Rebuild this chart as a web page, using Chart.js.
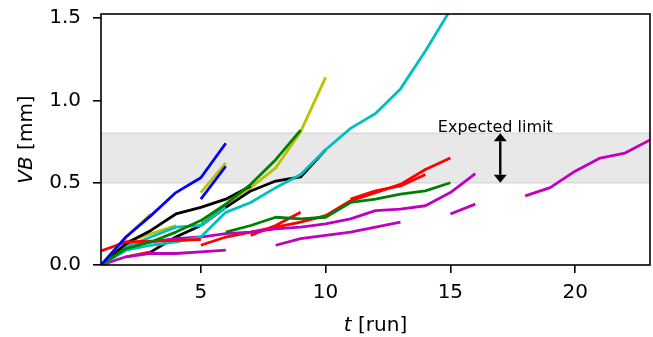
<!DOCTYPE html>
<html><head><meta charset="utf-8">
<script src="https://cdn.jsdelivr.net/npm/chart.js@4"></script>
<style>html,body{margin:0;padding:0;background:#fff}#wrap{width:653px;height:337px}</style>
</head><body><div id="wrap"><canvas id="c" width="653" height="337"></canvas></div>
<script>
// ---- axes / annotation values ----
const X_TICKS = [5, 10, 15, 20];
const Y_TICKS = [0, 0.5, 1.0, 1.5];
const X_MIN = 1, X_MAX = 23, Y_MIN = 0, Y_MAX = 1.525;
const BAND_LOW = 0.5, BAND_HIGH = 0.8;
const ARROW_X = 17;
const NOTE = "Expected limit", NOTE_X = 16.8, NOTE_Y = 0.81;
const X_TITLE_IT = "t", X_TITLE_RM = " [run]";
const Y_TITLE_IT = "VB", Y_TITLE_RM = " [mm]";

// ---- series (x values, VB values) ----
const B1_X = [1,2,3,4,5,6],            B1_Y = [0.00,0.17,0.30,0.44,0.53,0.74];
const B2_X = [5,6],                    B2_Y = [0.40,0.60];
const Y1_X = [1,2,3],                  Y1_Y = [0.00,0.17,0.31];
const Y2_X = [2,3,4],                  Y2_Y = [0.14,0.19,0.24];
const Y3_X = [5,6],                    Y3_Y = [0.44,0.62];
const Y4_X = [5,6,7,8,9,10],           Y4_Y = [0.26,0.37,0.47,0.59,0.81,1.14];
const G1_X = [1,2,3,4,5,6,7,8,9],      G1_Y = [0.00,0.10,0.14,0.20,0.27,0.37,0.49,0.64,0.82];
const G2_X = [6,7,8,9,10,11,12,13,14,15], G2_Y = [0.20,0.24,0.29,0.28,0.29,0.38,0.40,0.43,0.45,0.50];
const R1_X = [1,2,3,4,5],              R1_Y = [0.085,0.14,0.145,0.15,0.155];
const R0_X = [2,3],                    R0_Y = [0.05,0.08];
const R2_X = [5,6,7,8,9,10,11,12,13,14,15], R2_Y = [0.12,0.17,0.20,0.23,0.26,0.30,0.39,0.44,0.49,0.58,0.65];
const R3_X = [7,8,9],                  R3_Y = [0.18,0.24,0.32];
const R4_X = [11,12,13,14],            R4_Y = [0.40,0.45,0.48,0.55];
const C1_X = [1,2,3,4,5,6,7,8,9,10,11,12,13,14,15], C1_Y = [0.00,0.09,0.12,0.14,0.17,0.32,0.38,0.47,0.55,0.70,0.83,0.92,1.07,1.30,1.55];
const C2_X = [1,2,3,4,5,6],            C2_Y = [0.00,0.11,0.17,0.23,0.24,0.35];
const M1_X = [1,2,3,4,5,6],            M1_Y = [0.00,0.05,0.07,0.07,0.08,0.09];
const M2_X = [1,2,3,4,5,6,7,8,9,10,11,12,13,14,15,16], M2_Y = [0.00,0.12,0.14,0.16,0.17,0.19,0.20,0.22,0.23,0.25,0.28,0.33,0.34,0.36,0.44,0.555];
const M3_X = [8,9,10,11,12,13],        M3_Y = [0.12,0.16,0.18,0.20,0.23,0.26];
const M4_X = [15,16],                  M4_Y = [0.31,0.37];
const M5_X = [18,19,20,21,22,23],      M5_Y = [0.42,0.47,0.57,0.65,0.68,0.76];
const K1_X = [1,2,3,4,5,6,7],          K1_Y = [0.00,0.13,0.21,0.31,0.35,0.40,0.48];
const K2_X = [3,4,5,6,7,8,9,10],       K2_Y = [0.08,0.17,0.24,0.35,0.45,0.51,0.535,0.70];

const COL = {b:'#0000ff', g:'#008000', r:'#ff0000', c:'#00bfbf', m:'#bf00bf', y:'#bfbf00', k:'#000000'};
const SERIES = [
  [B1_X,B1_Y,'b'],[G1_X,G1_Y,'g'],[R1_X,R1_Y,'r'],[C1_X,C1_Y,'c'],[M1_X,M1_Y,'m'],[Y1_X,Y1_Y,'y'],[K1_X,K1_Y,'k'],
  [B2_X,B2_Y,'b'],[G2_X,G2_Y,'g'],[R0_X,R0_Y,'r'],[C2_X,C2_Y,'c'],[M2_X,M2_Y,'m'],[Y2_X,Y2_Y,'y'],[K2_X,K2_Y,'k'],
  [R2_X,R2_Y,'r'],[M3_X,M3_Y,'m'],[Y3_X,Y3_Y,'y'],[Y4_X,Y4_Y,'y'],[R3_X,R3_Y,'r'],[R4_X,R4_Y,'r'],[M4_X,M4_Y,'m'],[M5_X,M5_Y,'m']
];

const FONT = "'DejaVu Sans', sans-serif";

const datasets = SERIES.map(([xs, ys, c]) => ({
  data: xs.map((x, i) => ({x: x, y: ys[i]})),
  borderColor: COL[c], backgroundColor: COL[c],
  borderWidth: 2.8, pointRadius: 0, fill: false, tension: 0,
  borderJoinStyle: 'round', borderCapStyle: 'butt', clip: 0
}));

const deco = {
  id: 'deco',
  beforeDatasetsDraw(chart) {
    const {ctx, chartArea: a, scales: {x, y}} = chart;
    const yt = y.getPixelForValue(BAND_HIGH), yb = y.getPixelForValue(BAND_LOW);
    ctx.save();
    ctx.fillStyle = '#e8e8e8';
    ctx.fillRect(a.left, yt, a.right - a.left, yb - yt);
    ctx.strokeStyle = '#d9d9d9'; ctx.lineWidth = 1.5;
    ctx.beginPath();
    ctx.moveTo(a.left, yt); ctx.lineTo(a.right, yt);
    ctx.moveTo(a.left, yb); ctx.lineTo(a.right, yb);
    ctx.stroke();
    ctx.restore();
  },
  afterDatasetsDraw(chart) {
    const {ctx, chartArea: a, scales: {x, y}} = chart;
    ctx.save();
    // spines
    ctx.strokeStyle = '#000'; ctx.lineWidth = 1.6;
    ctx.strokeRect(a.left, a.top, a.right - a.left, a.bottom - a.top);
    // double arrow
    const ax = x.getPixelForValue(ARROW_X);
    const y1 = y.getPixelForValue(BAND_HIGH), y2 = y.getPixelForValue(BAND_LOW);
    const hl = 8, hw = 6.5;
    ctx.lineWidth = 2.4;
    ctx.beginPath(); ctx.moveTo(ax, y1 + hl); ctx.lineTo(ax, y2 - hl); ctx.stroke();
    ctx.fillStyle = '#000';
    ctx.beginPath(); ctx.moveTo(ax, y1); ctx.lineTo(ax - hw, y1 + hl); ctx.lineTo(ax + hw, y1 + hl); ctx.closePath(); ctx.fill();
    ctx.beginPath(); ctx.moveTo(ax, y2); ctx.lineTo(ax - hw, y2 - hl); ctx.lineTo(ax + hw, y2 - hl); ctx.closePath(); ctx.fill();
    // note
    ctx.font = "16px " + FONT;
    ctx.textAlign = 'center'; ctx.textBaseline = 'alphabetic';
    ctx.fillText(NOTE, x.getPixelForValue(NOTE_X), y.getPixelForValue(NOTE_Y));
    // axis titles (italic symbol + roman unit)
    const drawMixed = (it, rm, cx, cy, rot) => {
      ctx.save();
      ctx.translate(cx, cy); ctx.rotate(rot);
      ctx.textAlign = 'left'; ctx.textBaseline = 'alphabetic';
      ctx.font = "italic 20px " + FONT; const w1 = ctx.measureText(it).width;
      ctx.font = "20px " + FONT; const w2 = ctx.measureText(rm).width;
      const sx = -(w1 + w2) / 2;
      ctx.font = "italic 20px " + FONT; ctx.fillText(it, sx, 0);
      ctx.font = "20px " + FONT; ctx.fillText(rm, sx + w1, 0);
      ctx.restore();
    };
    drawMixed(X_TITLE_IT, X_TITLE_RM, (a.left + a.right) / 2, 331, 0);
    drawMixed(Y_TITLE_IT, Y_TITLE_RM, 32, (a.top + a.bottom) / 2, -Math.PI / 2);
    ctx.restore();
  }
};

new Chart(document.getElementById('c'), {
  type: 'line',
  data: {datasets},
  options: {
    responsive: false, animation: false, devicePixelRatio: 1,
    layout: {padding: {top: 14, right: 3, left: 0, bottom: 0}},
    plugins: {legend: {display: false}, tooltip: {enabled: false}},
    scales: {
      x: {
        type: 'linear', min: X_MIN, max: X_MAX,
        afterBuildTicks: s => { s.ticks = X_TICKS.map(v => ({value: v})); },
        afterFit: s => { s.height = 72; s.paddingLeft = 0; s.paddingRight = 0; },
        ticks: {color: '#000', font: {family: FONT, size: 20}, padding: 8, maxRotation: 0,
                callback: v => String(v)},
        grid: {drawOnChartArea: false, drawTicks: true, tickLength: 8, color: '#000', lineWidth: 1.6},
        border: {display: false}
      },
      y: {
        type: 'linear', min: Y_MIN, max: Y_MAX,
        afterBuildTicks: s => { s.ticks = Y_TICKS.map(v => ({value: v})); },
        afterFit: s => { s.width = 101; s.paddingTop = 0; s.paddingBottom = 0; },
        ticks: {color: '#000', font: {family: FONT, size: 20}, padding: 12,
                callback: v => Number(v).toFixed(1)},
        grid: {drawOnChartArea: false, drawTicks: true, tickLength: 8, color: '#000', lineWidth: 1.6},
        border: {display: false}
      }
    }
  },
  plugins: [deco]
});
</script>
</body></html>
